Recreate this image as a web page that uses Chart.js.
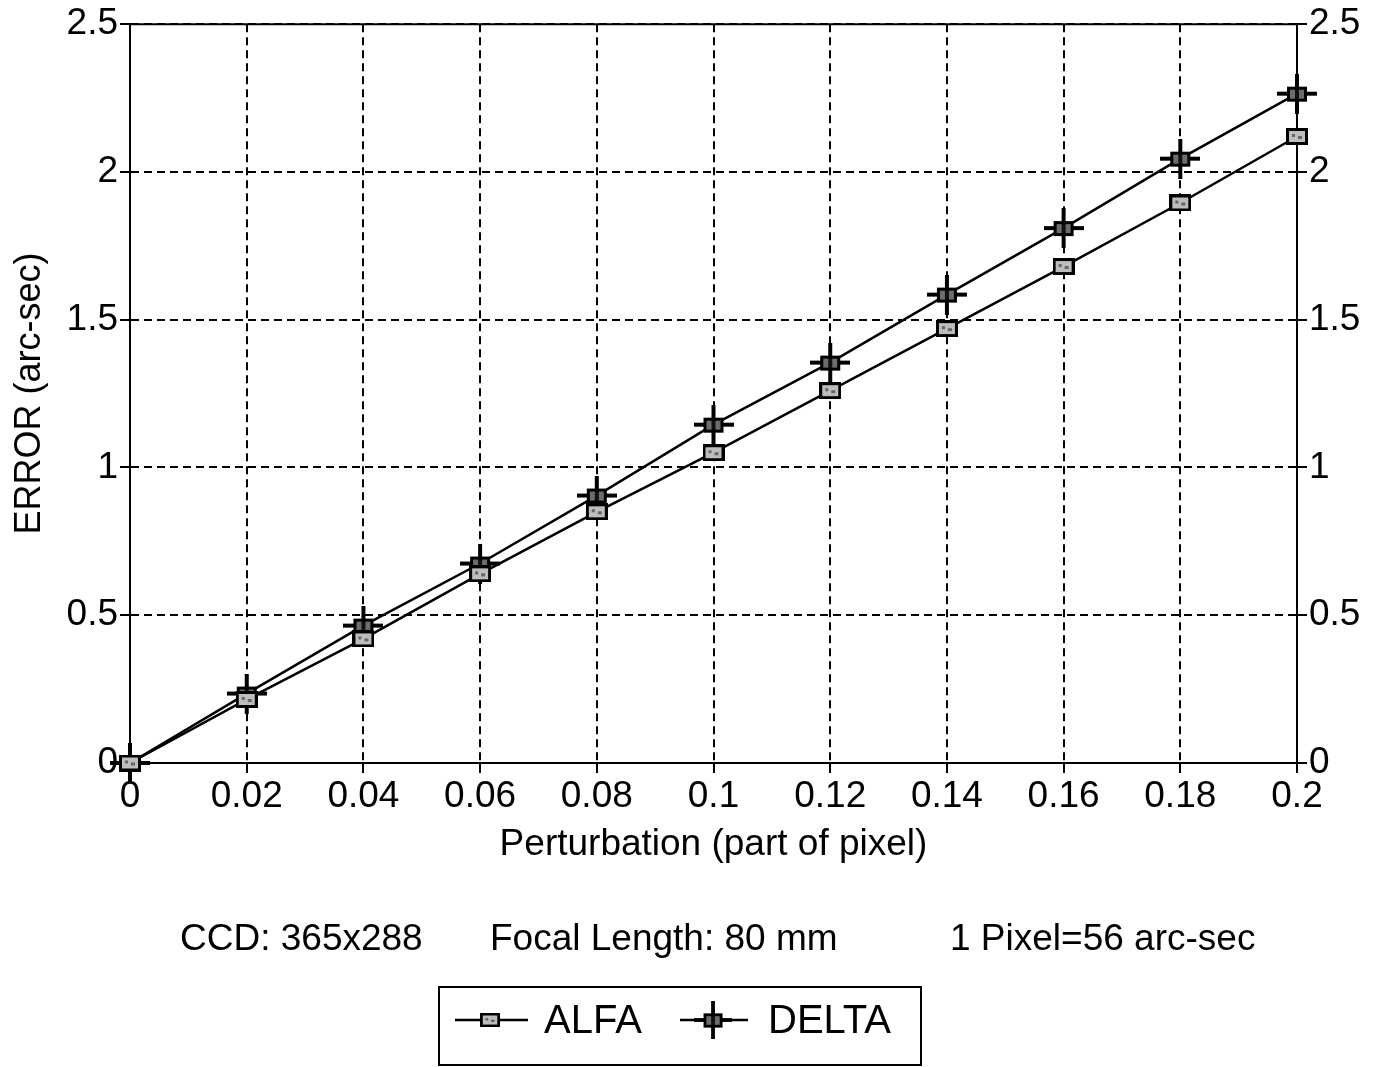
<!DOCTYPE html>
<html>
<head>
<meta charset="utf-8">
<script src="https://cdn.jsdelivr.net/npm/chart.js@4/dist/chart.umd.min.js"></script>
<style>
  body { margin: 0; background: #fff; }
</style>
</head>
<body>
<canvas id="error-chart" width="1385" height="1067"></canvas>
<script>
// Values
const perturbation = [0, 0.02, 0.04, 0.06, 0.08, 0.1, 0.12, 0.14, 0.16, 0.18, 0.2];
const alfaError = [0, 0.215, 0.42, 0.64, 0.85, 1.05, 1.26, 1.47, 1.68, 1.895, 2.12];
const deltaError = [0, 0.235, 0.465, 0.675, 0.905, 1.145, 1.355, 1.585, 1.81, 2.045, 2.265];
const xTicks = [0, 0.02, 0.04, 0.06, 0.08, 0.1, 0.12, 0.14, 0.16, 0.18, 0.2];
const yTicks = [0, 0.5, 1, 1.5, 2, 2.5];
const seriesNames = ['ALFA', 'DELTA'];
const captionParts = ['CCD: 365x288', 'Focal Length: 80 mm', '1 Pixel=56 arc-sec'];

const FONT = '"Liberation Sans", Arial, Helvetica, sans-serif';

// marker images
function alfaMarker() {
  const c = document.createElement('canvas');
  c.width = 22; c.height = 17;
  const g = c.getContext('2d');
  g.fillStyle = '#000';
  g.fillRect(0, 0, 22, 17);
  g.fillStyle = '#bdbdbd';
  g.fillRect(3, 3, 16, 11);
  g.fillStyle = '#666';
  g.fillRect(6, 6, 3, 3);
  g.fillRect(12, 8, 4, 3);
  return c;
}

function deltaMarker() {
  const c = document.createElement('canvas');
  c.width = 40; c.height = 40;
  const g = c.getContext('2d');
  g.fillStyle = '#000';
  g.fillRect(0, 18, 40, 4);
  g.fillRect(18, 0, 4, 40);
  g.fillRect(10, 13, 20, 15);
  g.fillStyle = '#6d6d6d';
  g.fillRect(13, 16, 14, 9);
  g.fillStyle = '#111';
  g.fillRect(18, 16, 4, 9);
  return c;
}

const markerA = alfaMarker();
const markerD = deltaMarker();

const tickFont = { family: FONT, size: 37 };

function fmt(v) {
  return String(Number(v.toFixed(2)));
}

// frame top line, caption below the axis and boxed legend
const extras = {
  id: 'extras',
  afterDraw(chart) {
    const ctx = chart.ctx;
    const a = chart.chartArea;
    ctx.save();
    ctx.strokeStyle = '#000';
    ctx.lineWidth = 2;
    ctx.beginPath();
    ctx.moveTo(a.left, a.top);
    ctx.lineTo(a.right, a.top);
    ctx.stroke();

    ctx.fillStyle = '#000';
    ctx.font = '37px ' + FONT;
    ctx.textBaseline = 'middle';
    ctx.textAlign = 'left';
    ctx.fillText(captionParts[0], 180, 940);
    ctx.fillText(captionParts[1], 490, 940);
    ctx.fillText(captionParts[2], 950, 940);

    // legend box
    ctx.lineWidth = 2;
    ctx.strokeRect(439, 987, 482, 78);
    const ly = 1020;
    ctx.lineWidth = 2.5;
    ctx.beginPath();
    ctx.moveTo(455, ly); ctx.lineTo(528, ly);
    ctx.moveTo(680, ly); ctx.lineTo(748, ly);
    ctx.stroke();
    ctx.drawImage(markerA, 480, ly - 7, 20, 14);
    ctx.drawImage(markerD, 694, ly - 19, 38, 38);
    ctx.font = '40px ' + FONT;
    ctx.fillText(seriesNames[0], 544, ly + 2);
    ctx.fillText(seriesNames[1], 768, ly + 2);
    ctx.restore();
  }
};

const ctx = document.getElementById('error-chart').getContext('2d');
const chart = new Chart(ctx, {
  type: 'line',
  data: {
    datasets: [
      {
        label: seriesNames[0],
        data: perturbation.map((x, i) => ({ x: x, y: alfaError[i] })),
        borderColor: '#000',
        borderWidth: 2.5,
        pointStyle: markerA,
        tension: 0,
        fill: false,
        clip: false
      },
      {
        label: seriesNames[1],
        data: perturbation.map((x, i) => ({ x: x, y: deltaError[i] })),
        borderColor: '#000',
        borderWidth: 2.5,
        pointStyle: markerD,
        tension: 0,
        fill: false,
        clip: false
      }
    ]
  },
  options: {
    responsive: false,
    animation: false,
    events: [],
    layout: { padding: { top: 20, left: 0, right: 0, bottom: 196 } },
    plugins: {
      legend: { display: false },
      tooltip: { enabled: false }
    },
    scales: {
      x: {
        type: 'linear',
        min: 0,
        max: 0.2,
        afterBuildTicks: s => { s.ticks = xTicks.map(v => ({ value: v })); },
        afterFit: s => { s.height = 108; },
        ticks: {
          color: '#000',
          font: tickFont,
          padding: 2,
          maxRotation: 0,
          autoSkip: false,
          callback: v => fmt(v)
        },
        grid: { color: '#000', lineWidth: 2, tickLength: 10 },
        border: { color: '#000', width: 2, dash: [8, 5] },
        title: {
          display: true,
          text: 'Perturbation (part of pixel)',
          color: '#000',
          font: { family: FONT, size: 37 },
          padding: { top: 0, bottom: 4 }
        }
      },
      y: {
        type: 'linear',
        position: 'left',
        min: 0,
        max: 2.5,
        afterBuildTicks: s => { s.ticks = yTicks.map(v => ({ value: v })); },
        afterFit: s => { s.width = 130; },
        ticks: {
          color: '#000',
          font: tickFont,
          padding: 2,
          callback: v => fmt(v)
        },
        grid: { color: '#000', lineWidth: 2, tickLength: 10 },
        border: { color: '#000', width: 2, dash: [8, 5] },
        title: {
          display: true,
          text: 'ERROR (arc-sec)',
          color: '#000',
          font: { family: FONT, size: 36 },
          padding: { top: 8, bottom: 0 }
        }
      },
      y2: {
        type: 'linear',
        position: 'right',
        min: 0,
        max: 2.5,
        afterBuildTicks: s => { s.ticks = yTicks.map(v => ({ value: v })); },
        afterFit: s => { s.width = 88; },
        ticks: {
          color: '#000',
          font: tickFont,
          padding: 2,
          callback: v => fmt(v)
        },
        grid: { drawOnChartArea: false, color: '#000', lineWidth: 2, tickLength: 10 },
        border: { color: '#000', width: 2 }
      }
    }
  },
  plugins: [extras]
});
</script>
</body>
</html>
